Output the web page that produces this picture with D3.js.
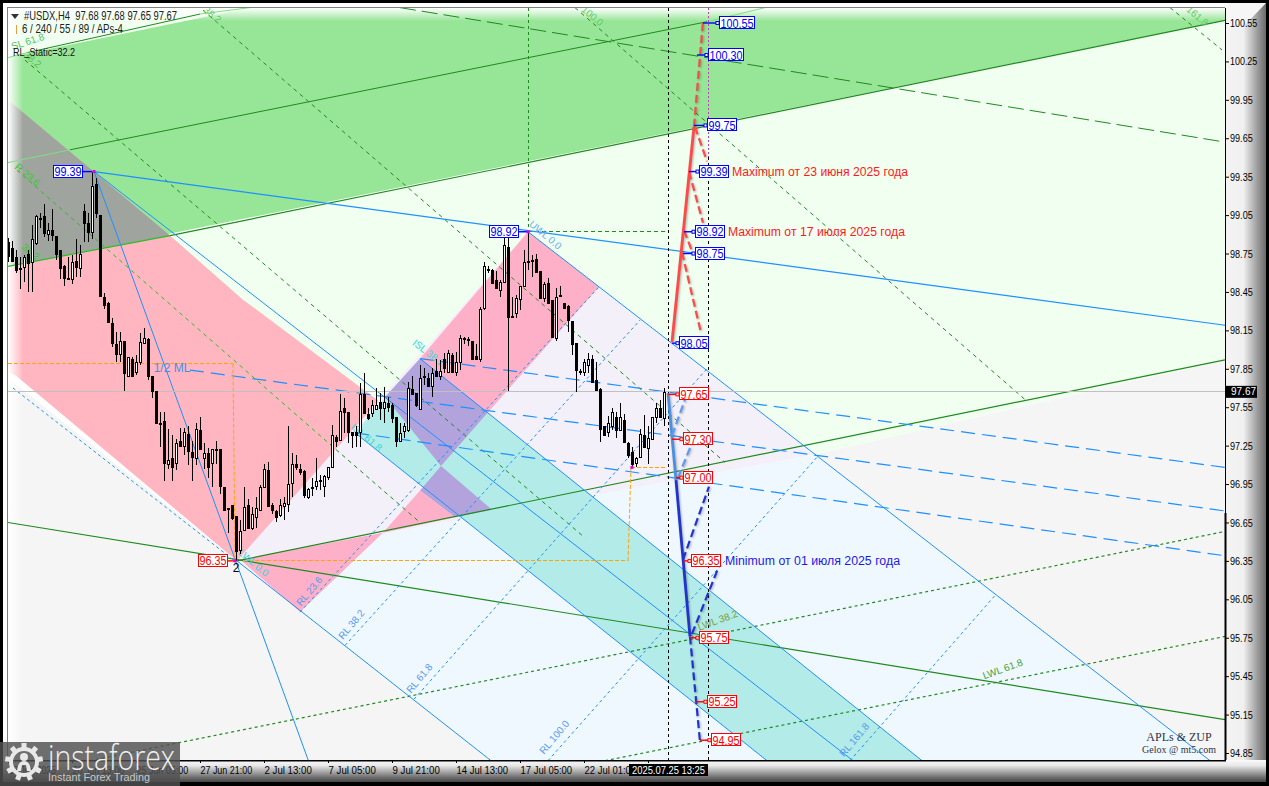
<!DOCTYPE html>
<html><head><meta charset="utf-8">
<script src="https://d3js.org/d3.v7.min.js"></script>
<style>html,body{margin:0;padding:0;background:#000;overflow:hidden}svg{display:block}text{font-family:"Liberation Sans",Arial,sans-serif;white-space:pre}</style>
</head><body><div id="c"></div>
<script>
// ---- axis data (bar index: 4-hour bars counted from 27 Jun 21:00) ----
const barDomain=[-48,256.25];
const priceRef=[100.55,94.85];
const priceTicks=[100.55,100.25,99.95,99.65,99.35,99.05,98.75,98.45,98.15,97.85,97.55,97.25,96.95,96.65,96.35,96.05,95.75,95.45,95.15,94.85];
const timeTickBars=[-48,-32,-16,0,16,32,48,64,80,96,112];
const timeTickLabels=["18 Jun 2025","20 Jun 13:00","25 Jun 05:00","27 Jun 21:00","2 Jul 13:00","7 Jul 05:00","9 Jul 21:00","14 Jul 13:00","17 Jul 05:00","22 Jul 01:00",""];
const lastPrice=97.67;
const firstBar=-48;
// open, high, low, close
const ohlc=[
[98.84,98.87,98.68,98.73],[98.79,98.85,98.68,98.69],[98.72,98.78,98.60,98.62],[98.64,98.72,98.47,98.63],[98.64,98.74,98.53,98.72],[98.75,98.78,98.45,98.68],[98.68,98.97,98.45,98.86],[98.83,99.05,98.82,99.04],[99.03,99.07,98.95,99.02],[99.04,99.14,98.88,98.91],
[98.90,98.99,98.85,98.93],[98.93,99.10,98.85,98.89],[98.89,98.89,98.70,98.75],[98.78,98.78,98.55,98.64],[98.65,98.66,98.50,98.56],[98.56,98.72,98.54,98.56],[98.55,98.74,98.51,98.68],[98.69,98.86,98.57,98.64],[98.64,98.82,98.57,98.75],[99.08,99.14,98.84,98.99],
[98.99,99.07,98.84,98.92],[98.92,99.39,98.86,99.28],[99.29,99.34,99.03,99.06],[99.05,99.05,98.41,98.42],[98.41,98.44,98.32,98.35],[98.36,98.37,98.21,98.21],[98.21,98.25,98.02,98.05],[98.04,98.14,97.90,97.96],[97.97,98.14,97.90,98.07],[98.07,98.07,97.68,97.82],
[97.79,97.94,97.79,97.94],[97.93,97.94,97.79,97.80],[97.82,97.96,97.80,97.90],[97.90,98.13,97.88,98.06],[98.05,98.17,98.05,98.09],[98.08,98.09,97.76,97.79],[97.79,97.79,97.62,97.67],[97.68,97.68,97.43,97.43],[97.43,97.51,97.24,97.43],[97.44,97.51,96.97,97.11],
[97.11,97.38,97.07,97.14],[97.15,97.33,96.97,97.08],[97.11,97.30,97.06,97.27],[97.29,97.39,97.25,97.25],[97.25,97.39,97.18,97.36],[97.34,97.40,97.10,97.21],[97.20,97.29,96.97,97.16],[97.15,97.43,97.10,97.38],[97.37,97.47,97.22,97.22],[97.15,97.27,97.07,97.19],
[97.19,97.23,97.00,97.08],[97.11,97.22,96.93,97.22],[97.22,97.29,97.11,97.21],[97.22,97.22,96.87,96.93],[96.93,96.93,96.74,96.75],[96.76,96.76,96.57,96.75],[96.79,96.79,96.67,96.69],[96.70,96.70,96.35,96.43],[96.43,96.67,96.40,96.58],[96.59,96.93,96.59,96.77],
[96.79,96.83,96.61,96.61],[96.61,96.77,96.59,96.72],[96.69,96.85,96.61,96.76],[96.75,96.94,96.75,96.93],[96.93,97.11,96.92,97.07],[97.06,97.12,96.77,96.78],[96.79,96.80,96.72,96.75],[96.74,96.75,96.65,96.69],[96.71,96.83,96.69,96.79],[96.78,96.85,96.67,96.80],
[96.79,97.40,96.73,96.95],[96.96,97.19,96.85,97.11],[97.11,97.18,97.06,97.09],[97.07,97.11,97.02,97.05],[97.05,97.06,96.84,96.86],[96.85,96.92,96.83,96.91],[96.92,97.00,96.86,96.93],[96.93,97.15,96.90,96.97],[96.97,97.02,96.90,96.98],[96.93,97.02,96.85,97.01],
[97.00,97.08,96.98,97.08],[97.08,97.41,97.08,97.33],[97.32,97.33,97.24,97.29],[97.29,97.65,97.29,97.52],[97.54,97.62,97.35,97.51],[97.51,97.51,97.27,97.35],[97.36,97.36,97.23,97.34],[97.36,97.40,97.24,97.34],[97.35,97.74,97.24,97.65],[97.65,97.82,97.50,97.50],
[97.50,97.54,97.45,97.47],[97.51,97.61,97.47,97.57],[97.54,97.70,97.53,97.57],[97.59,97.66,97.45,97.54],[97.54,97.71,97.43,97.59],[97.58,97.63,97.51,97.55],[97.57,97.58,97.43,97.47],[97.47,97.47,97.24,97.28],[97.29,97.43,97.29,97.35],[97.36,97.43,97.31,97.40],
[97.37,97.75,97.36,97.70],[97.69,97.79,97.65,97.65],[97.66,97.66,97.55,97.57],[97.54,97.88,97.53,97.78],[97.79,97.86,97.72,97.78],[97.78,97.82,97.72,97.72],[97.72,97.86,97.63,97.82],[97.83,97.93,97.79,97.79],[97.79,97.92,97.76,97.83],[97.93,97.97,97.82,97.86],
[97.82,98.00,97.82,97.97],[97.96,97.97,97.82,97.83],[97.82,97.98,97.79,97.90],[97.90,98.11,97.84,98.09],[98.08,98.10,98.04,98.09],[98.08,98.10,98.03,98.07],[98.07,98.07,97.93,97.93],[97.95,98.04,97.93,97.93],[97.93,98.33,97.90,98.32],[98.32,98.68,98.31,98.65],
[98.63,98.65,98.60,98.62],[98.62,98.63,98.52,98.52],[98.54,98.61,98.48,98.48],[98.47,98.54,98.41,98.53],[98.53,98.88,98.53,98.82],[98.80,98.87,97.68,98.25],[98.25,98.41,98.25,98.26],[98.28,98.43,98.25,98.40],[98.40,98.50,98.31,98.50],[98.49,98.78,98.49,98.68],
[98.69,98.92,98.62,98.69],[98.70,98.74,98.57,98.70],[98.71,98.75,98.60,98.61],[98.61,98.61,98.40,98.40],[98.40,98.53,98.37,98.51],[98.52,98.56,98.36,98.36],[98.39,98.39,98.09,98.10],[98.09,98.48,98.07,98.41],[98.43,98.50,98.41,98.42],[98.36,98.36,98.32,98.32],
[98.34,98.35,98.14,98.23],[98.22,98.22,97.96,98.04],[98.05,98.05,97.67,97.84],[97.83,97.85,97.80,97.83],[97.82,97.93,97.79,97.90],[97.88,97.97,97.82,97.93],[97.93,97.96,97.75,97.75],[97.76,97.90,97.68,97.68],[97.69,97.70,97.28,97.38],[97.40,97.40,97.33,97.33],
[97.36,97.48,97.32,97.43],[97.40,97.54,97.37,97.51],[97.47,97.51,97.31,97.37],[97.37,97.58,97.37,97.47],[97.45,97.50,97.28,97.28],[97.27,97.28,97.15,97.18],[97.20,97.24,97.08,97.11],[97.11,97.16,97.08,97.15],[97.16,97.38,97.16,97.34],[97.33,97.49,97.24,97.24],
[97.23,97.40,97.11,97.31],[97.30,97.47,97.30,97.47],[97.47,97.58,97.43,97.54],[97.54,97.61,97.47,97.47],[97.47,97.70,97.40,97.67]
];
// ---- filled zones: colour + [bar, price] outline ----
const zones=[
["#f0fff0",[[-48,100.67],[12.5,100.67],[-48,100.28]]],
["#f0fff0",[[-7.5,98.89],[256.25,100.57],[256.25,97.92],[153.75,97.18],[82,98.92],[45,97.59],[10.75,98.39]]],
["#f5f5f5",[[-48,97.78],[9.25,96.35],[72.75,94.79],[-48,94.79]]],
["#f5f5f5",[[153.75,97.18],[256.25,97.92],[256.25,94.79],[252.5,94.79]]],
["#f0f8ff",[[9.25,96.35],[153.75,97.18],[252.5,94.79],[72.75,94.79]]],
["#97e597",[[-48,100.28],[12.5,100.67],[256.25,100.67],[256.25,100.57],[-48,98.65]]],
["#ffb6c1",[[-48,99.95],[-7.5,98.89],[10.75,98.39],[45,97.59],[9.25,96.35],[-45.75,97.79],[-48,97.83]]],
["#f3f0fa",[[9.25,96.35],[82,98.92],[153.75,97.18]]],
["#a0a49e",[[-48,99.95],[-7.5,98.89],[-48,98.65]]],
["#b2ebe8",[[38.75,97.35],[55,97.93],[180.5,94.79],[141.75,94.79]]],
["#ffb0c9",[[55,97.93],[82,98.92],[99.75,98.49],[72,97.51]]],
["#b3a3dc",[[46.25,97.63],[55,97.93],[72,97.51],[60.25,97.09]]],
["#b3a3dc",[[60.25,97.09],[73,96.75],[63.75,96.69],[55,96.90]]],
["#ffb0c9",[[10,96.36],[45.75,96.57],[25,95.95]]],
["#ffb0c9",[[45.75,96.57],[55,96.90],[63.75,96.69]]]
];
// ---- lines: [colour, width, dash, [bar,price], [bar,price]] ----
const blue="#1e90ff", dk="#1f8a1f", lt="#7fe07f", br="#22c022";
const trendLines=[
[lt,1,"",[-48,100.28],[-43,100.32]],[dk,1,"",[-43,100.32],[0,100.62]],[lt,1,"",[0,100.62],[12.5,100.67]],
[lt,1,"",[-48,99.46],[-32.5,99.56]],[dk,1,"",[-32.5,99.56],[126.75,100.56]],[lt,1,"",[126.75,100.56],[141.25,100.67]],
[br,1.2,"",[-48,98.65],[-7.5,98.89]],[dk,1.2,"",[-7.5,98.89],[256.25,100.57]],
[dk,1.2,"",[9.25,96.35],[256.25,97.92]],
[dk,1.2,"",[-48,96.65],[256.25,95.11]],
[dk,1,"16,6",[50,100.67],[256.25,99.62]],
[dk,1.2,"3,3",[-27.5,94.79],[256.25,96.58]],
[dk,1.2,"3,3",[101.25,94.79],[256.25,95.76]],
[dk,1,"4,4",[-43.75,100.26],[96.25,96.53]],
[dk,1,"4,4",[0.75,100.65],[131.25,97.12]],
[dk,1,"4,4",[93.75,100.67],[206.25,97.61]],
[dk,1,"4,4",[242.5,100.67],[255.5,100.34]],
[br,1,"4,4",[-45.75,99.40],[32.5,97.26]],
[dk,1,"4,4",[32.5,97.26],[55,96.65]],
[dk,1,"3,3",[82,100.67],[82,98.92]],
[dk,1,"4,3",[82,98.92],[117,98.92]],
[blue,1,"",[-26.5,99.39],[163.25,94.79]],
[blue,1,"",[-26.5,99.39],[27.1,94.79]],
[blue,1.2,"",[-26.5,99.39],[256.25,98.19]],
[blue,1,"",[82,98.92],[252.5,94.79]],
[blue,1,"",[55,97.93],[180.5,94.79]],
[blue,1,"",[38.75,97.35],[141.75,94.79]],
[blue,1,"",[9.25,96.35],[72.75,94.79]],
[blue,1,"3,3",[-46.75,97.70],[8.25,96.36]],
[blue,1,"3,3",[25,95.95],[99.75,98.49]],
[blue,1,"3,3",[36.25,95.69],[110,98.23]],
[blue,1,"3,3",[53.5,95.27],[127,97.86]],
[blue,1,"3,3",[87,94.79],[154.25,97.16]],
[blue,1,"3,3",[162.5,94.79],[198.75,96.08]],
[blue,1.2,"14,7",[55,97.93],[256.25,97.08]],
[blue,1.2,"14,7",[-2.5,97.84],[256.25,96.74]],
[blue,1.2,"14,7",[38.75,97.35],[256.25,96.39]],
["#ffa500",1,"4,2",[-48,97.89],[8.25,97.89]],
["#ffa500",1,"4,2",[8.25,97.89],[8.75,96.36]],
["#ffa500",1,"4,2",[10.75,96.35],[107,96.35]],
["#ffa500",1,"4,2",[107,96.35],[107.75,97.08]],
["#ffa500",1,"4,2",[107.75,97.08],[116.25,97.08]],
["#000",1,"3,3",[117,100.67],[117,94.79]],
["#c040c0",1,"2,2",[127,100.67],[127,99.5]],
["#000",1,"3,3",[127,99.5],[127,94.79]]
];
const fanLines=[
["#ff4848",2.8,"",[118,98.06],[123.5,99.74]],
["#ff4848",2.2,"8,4",[123.5,99.74],[125.75,100.56]],
["#ff4848",2.2,"8,4",[120.5,98.76],[125.25,98.13]],
["#ff4848",2.2,"8,4",[121,98.93],[123.25,98.75]],
["#ff4848",2.2,"8,4",[122.25,99.39],[125.75,98.99]],
["#ff4848",2.2,"8,4",[123.75,99.74],[126.75,99.47]],
["#4a90e2",2.8,"",[117,97.66],[119,96.98]],
["#2233cc",2.8,"",[119,96.98],[122.5,95.76]],
["#2233cc",2.2,"8,4",[122.5,95.76],[125,94.94]],
["#5a9cf0",2.2,"8,4",[118,97.33],[121.25,97.61]],
["#5a9cf0",2.2,"8,4",[119.5,97.00],[123,97.27]],
["#2233cc",2.2,"8,4",[120.75,96.36],[127.25,96.93]],
["#2233cc",2.2,"8,4",[123,95.78],[129.5,96.29]]
];
// ---- price tags: price text, connector-start bar, box-edge bar ----
const tagPrices=[100.55,100.30,99.75,99.39,98.92,98.75,98.05,97.65,97.30,97.00,96.35,95.75,95.25,94.95];
const tagFromBars=[125.75,124.25,123.5,122.25,121,120.75,118,117,118,119,120.75,122.5,124,125];
const tagBoxBars=[129.75,127,126.75,124.75,123.75,123.75,119.75,119.75,120.75,120.75,122.75,124.75,126.75,127.75];
const leftTagPrices=[99.39,98.92,96.35];
const leftTagFromBars=[-27,82,8.75];
const leftTagBoxBars=[-29.5,79.5,6.75];
const pivotPoints=[[-26.5,99.39],[82,98.92],[8.75,96.35],[108,97.08]];
// ---- annotations ----
const notes=[["Maximum от 23 июня 2025 года",133,99.39,"#ff1a1a",176],["Maximum от 17 июля 2025 года",132,98.92,"#ff1a1a",177],["Minimum от 01 июля 2025 года",131.25,96.35,"#1a1ae6",175]];
const levelLabels=[
["UWL 0.0",86.25,98.89,40,"#6cb0f0"],["ISL 38.2",57,97.97,38,"#39d6d6"],["ISL 61.8",41.5,97.31,40,"#39d6d6"],["LWL 0.0",13.25,96.33,40,"#39d6d6"],
["RL 23.6",27.5,96.11,-50,"#5599ee"],["RL 38.2",38,95.85,-50,"#5599ee"],["RL 61.8",55,95.43,-50,"#5599ee"],["RL 100.0",88.75,94.97,-50,"#5599ee"],["RL 161.8",163.75,94.95,-50,"#5599ee"],
["LWL 38.2",129.5,95.88,-20,"#7f9d2c"],["LWL 61.8",200.75,95.50,-20,"#3aa03a"],
["SL 61.8",-43,100.40,-18,"#55c455"],["38.2",-42,100.26,40,"#55c455"],["R 23.6",-43.25,99.36,40,"#33cc33"],["38.2",-42.5,98.76,40,"#33cc33"],
["38.2",3,100.61,40,"#66cc66"],["100.0",98,100.60,40,"#66cc66"],["161.8",249.25,100.60,40,"#66cc66"]
];

// ---- scales ----
const W=1269,H=786,L=8,R=1225,T=8,B=760;
const x=d3.scaleLinear().domain(barDomain).range([L,R]);
const y=d3.scaleLinear().domain(priceRef).range([23,753]);
const P=p=>[x(p[0]),y(p[1])];
const svg=d3.select("#c").append("svg").attr("width",W).attr("height",H);
const defs=svg.append("defs");
function grad(id,x2,y2,stops){const g=defs.append("linearGradient").attr("id",id).attr("x1",0).attr("y1",0).attr("x2",x2).attr("y2",y2);
 stops.forEach(s=>g.append("stop").attr("offset",s[0]).attr("stop-color",s[1]).attr("stop-opacity",s[2]===undefined?1:s[2]));}
grad("rp",1,0,[[0,"#f4f4f4"],[.45,"#f0f0f0"],[.8,"#9a9a9a"],[1,"#6a6a6a"]]);
grad("bp",0,1,[[0,"#fafafa"],[.25,"#e8e8e8"],[.75,"#777"],[1,"#444"]]);
grad("fl",1,0,[[0,"#fff",1],[1,"#fff",0]]);
grad("ft",0,1,[[0,"#fff",1],[1,"#fff",0]]);
defs.append("clipPath").attr("id","pc").append("rect").attr("x",L).attr("y",T).attr("width",R-L).attr("height",B-T);

// frame
svg.append("rect").attr("width",W).attr("height",H).attr("fill","#000");
svg.append("rect").attr("x",3).attr("y",3).attr("width",W-6).attr("height",H-7).attr("fill","#f4f4f4");
svg.append("rect").attr("x",R).attr("y",3).attr("width",W-3-R).attr("height",H-7).attr("fill","url(#rp)");
svg.append("path").attr("d","M1225 3L1266 3L1245 25L1225 25Z").attr("fill","#f6f6f6");
svg.append("rect").attr("x",3).attr("y",B).attr("width",W-6).attr("height",H-4-B).attr("fill","url(#bp)");
svg.append("rect").attr("x",3).attr("y",3).attr("width",R).attr("height",5).attr("fill","#fff");
svg.append("rect").attr("x",3).attr("y",3).attr("width",5).attr("height",B-3).attr("fill","#fff");

// plot
const plot=svg.append("g").attr("clip-path","url(#pc)");
plot.append("rect").attr("x",L).attr("y",T).attr("width",R-L).attr("height",B-T).attr("fill","#fff");
const line=d3.line();
plot.selectAll("path.z").data(zones).join("path").attr("class","z")
 .attr("d",d=>line(d[1].map(P))+"Z").attr("fill",d=>d[0]);
plot.append("rect").attr("x",L).attr("y",T).attr("width",15).attr("height",B-T).attr("fill","url(#fl)");
plot.append("rect").attr("x",L).attr("y",T).attr("width",R-L).attr("height",13).attr("fill","url(#ft)");
const drawLines=(g,data)=>g.selectAll("path.l").data(data).join("path").attr("class","l")
 .attr("d",d=>line([P(d[3]),P(d[4])])).attr("fill","none")
 .attr("stroke",d=>d[0]).attr("stroke-width",d=>d[1]).attr("stroke-dasharray",d=>d[2]||null)
 .attr("shape-rendering",d=>(d[3][0]===d[4][0]||d[3][1]===d[4][1])?"crispEdges":null);
drawLines(plot.append("g"),trendLines);
plot.append("line").attr("x1",L).attr("x2",R).attr("y1",y(lastPrice)).attr("y2",y(lastPrice)).attr("stroke","#c0c0c0").attr("shape-rendering","crispEdges");
// rotated level labels
plot.selectAll("text.lv").data(levelLabels).join("text").attr("class","lv")
 .attr("transform",d=>`translate(${x(d[1])},${y(d[2])}) rotate(${d[3]})`)
 .attr("text-anchor","middle").attr("dominant-baseline","middle").attr("font-size",10).attr("fill",d=>d[4]).text(d=>d[0]);
plot.append("text").attr("x",x(-7)).attr("y",y(97.85)).attr("text-anchor","middle").attr("dominant-baseline","middle")
 .attr("font-size",12).attr("fill","#4a90e2").text("1/2 ML");
// candles
const cg=plot.append("g").attr("shape-rendering","crispEdges");
const cx=i=>Math.round(x(firstBar+i))+.5;
cg.selectAll("line").data(ohlc).join("line").attr("x1",(d,i)=>cx(i)).attr("x2",(d,i)=>cx(i))
 .attr("y1",d=>y(d[1])).attr("y2",d=>y(d[2])).attr("stroke","#000");
cg.selectAll("rect").data(ohlc).join("rect")
 .attr("x",(d,i)=>cx(i)-1).attr("width",2)
 .attr("y",d=>Math.round(y(Math.max(d[0],d[3])))+.5)
 .attr("height",d=>Math.max(1,Math.round(Math.abs(y(d[0])-y(d[3])))))
 .attr("fill",d=>d[3]>=d[0]?"#fff":"#000").attr("stroke","#000");
// fans
drawLines(plot.append("g").style("filter","drop-shadow(1px 1px 1px rgba(0,0,0,.3))"),fanLines);
// tags
function tag(p,fromBar,boxBar,left){
 const col=(left? p>97.5 : p>=98)?"#0000ff":"#ff0000";
 const g=svg.append("g"), t=p.toFixed(2), w=t.length>5?35:29, h=12, yy=y(p);
 const bx=left?x(boxBar)-w:x(boxBar);
 g.append("line").attr("x1",x(fromBar)).attr("x2",left?bx+w:bx).attr("y1",yy).attr("y2",yy).attr("stroke",col).attr("stroke-width",1.4);
 if(!left) g.append("rect").attr("x",bx-3).attr("y",yy-1.5).attr("width",3).attr("height",3).attr("fill","#fff").attr("stroke",col);
 g.append("rect").attr("x",Math.round(bx)+.5).attr("y",Math.round(yy-h/2)-.5).attr("width",w).attr("height",h).attr("fill","#fff").attr("stroke",col);
 g.append("text").attr("x",bx+w/2+.5).attr("y",yy+4.5).attr("text-anchor","middle").attr("font-size",12).attr("textLength",w-2).attr("lengthAdjust","spacingAndGlyphs").attr("fill",col).text(t);
}
tagPrices.forEach((p,i)=>tag(p,tagFromBars[i],tagBoxBars[i],false));
leftTagPrices.forEach((p,i)=>tag(p,leftTagFromBars[i],leftTagBoxBars[i],true));
svg.selectAll("rect.pv").data(pivotPoints).join("rect").attr("class","pv").attr("x",d=>x(d[0])-1.5).attr("y",d=>y(d[1])-1.5).attr("width",3).attr("height",3).attr("fill","#e000e0");
svg.append("text").attr("x",x(9)).attr("y",y(96.35)+11).attr("text-anchor","middle").attr("font-size",12).attr("fill","#000").text("2");
svg.selectAll("text.nt").data(notes).join("text").attr("class","nt").attr("x",d=>x(d[1])).attr("y",d=>y(d[2])+4)
 .attr("font-size",12).attr("textLength",d=>d[4]).attr("lengthAdjust","spacingAndGlyphs").attr("fill",d=>d[3]).text(d=>d[0]);

// top-left text
svg.append("path").attr("d","M11 14L19 14L15 19Z").attr("fill","#333");
svg.append("text").attr("x",24).attr("y",20).attr("font-size",12).attr("fill","#222").attr("textLength",153).attr("lengthAdjust","spacingAndGlyphs").text("#USDX,H4  97.68 97.68 97.65 97.67");
svg.append("line").attr("x1",16.5).attr("x2",16.5).attr("y1",25).attr("y2",34).attr("stroke","#e0a040");
svg.append("text").attr("x",22).attr("y",33).attr("font-size",12).attr("fill","#222").attr("textLength",101).attr("lengthAdjust","spacingAndGlyphs").text("6 / 240 / 55 / 89 / APs-4");
svg.append("text").attr("x",13).attr("y",56).attr("font-size",11).attr("fill","#111").attr("textLength",62).attr("lengthAdjust","spacingAndGlyphs").text("RL_Static=32.2");
svg.append("text").attr("x",1179).attr("y",741).attr("text-anchor","middle").attr("font-size",12).attr("fill","#334").style("font-family","'Liberation Serif',serif").text("APLs & ZUP");
svg.append("text").attr("x",1179).attr("y",753).attr("text-anchor","middle").attr("font-size",10).attr("fill","#334").style("font-family","'Liberation Serif',serif").text("Gelox @ mt5.com");

// axes
const ax=svg.append("g").attr("transform",`translate(${R},0)`)
 .call(d3.axisRight(y).tickValues(priceTicks).tickSize(4).tickPadding(1).tickFormat(d3.format(".2f")));
ax.select(".domain").remove();
ax.selectAll("line").attr("stroke","#000");
ax.selectAll("text").attr("font-size",11).attr("fill","#000").style("font-family","'Liberation Sans',Arial,sans-serif")
 .attr("textLength",d=>d.toFixed(2).length*4.55).attr("lengthAdjust","spacingAndGlyphs");
svg.append("line").attr("x1",R+.5).attr("x2",R+.5).attr("y1",T).attr("y2",513).attr("stroke","#000");
svg.append("line").attr("x1",R+.5).attr("x2",R+.5).attr("y1",513).attr("y2",B).attr("stroke","#000").attr("stroke-width",2);
svg.append("line").attr("x1",L-1).attr("x2",R).attr("y1",7.5).attr("y2",7.5).attr("stroke","#808080");
svg.append("line").attr("x1",7.5).attr("x2",7.5).attr("y1",7).attr("y2",B).attr("stroke","#808080");
svg.append("rect").attr("x",L-1).attr("y",B).attr("width",R-L+2).attr("height",1.5).attr("fill","#000");
const tx=svg.append("g").attr("transform",`translate(0,${B})`)
 .call(d3.axisBottom(x).tickValues(timeTickBars).tickSize(3).tickPadding(3).tickFormat((d,i)=>timeTickLabels[i]));
tx.select(".domain").remove();
tx.selectAll("line").attr("stroke","#000");
tx.selectAll("text").attr("text-anchor","start").attr("font-size",11).attr("fill","#000").style("font-family","'Liberation Sans',Arial,sans-serif")
 .attr("textLength",(d,i)=>Math.max(1,timeTickLabels[i].length*4.3)).attr("lengthAdjust","spacingAndGlyphs");
// current price + time tags
svg.append("rect").attr("x",1226).attr("y",y(lastPrice)-6).attr("width",31).attr("height",12).attr("fill","#000");
svg.append("text").attr("x",1231).attr("y",y(lastPrice)+3.5).attr("font-size",10).attr("fill","#fff").text(lastPrice.toFixed(2));
svg.append("rect").attr("x",629).attr("y",764).attr("width",79).attr("height",12).attr("fill","#000");
svg.append("text").attr("x",632).attr("y",773.5).attr("font-size",11).attr("fill","#fff").attr("textLength",73).attr("lengthAdjust","spacingAndGlyphs").text("2025.07.25 13:25");

// logo block
const lg=svg.append("g");
lg.append("rect").attr("x",0).attr("y",742).attr("width",180).attr("height",44).attr("fill","#505050").attr("opacity",.82);
const gear=lg.append("g").attr("transform","translate(24,762)").attr("fill","#e8e8e8");
gear.append("path").attr("d",d3.arc()({innerRadius:11,outerRadius:15,startAngle:0,endAngle:2*Math.PI}));
d3.range(9).forEach(i=>gear.append("rect").attr("x",-2.5).attr("y",-19).attr("width",5).attr("height",5).attr("transform",`rotate(${i*40})`));
gear.append("circle").attr("cy",-5).attr("r",4);
gear.append("path").attr("d","M-7 9Q-6 -1 0 -1Q6 -1 7 9L3 9L2 3L-2 3L-3 9Z");
lg.append("text").attr("x",48).attr("y",770).attr("font-size",34).attr("textLength",127).attr("lengthAdjust","spacingAndGlyphs").attr("fill","#f0f0f0").style("font-family","'Open Sans',sans-serif").style("font-weight",300).text("instaforex");
lg.append("text").attr("x",48).attr("y",781).attr("font-size",11).attr("textLength",102).attr("lengthAdjust","spacingAndGlyphs").attr("fill","#c8c8c8").text("Instant Forex Trading");
</script></body></html>
